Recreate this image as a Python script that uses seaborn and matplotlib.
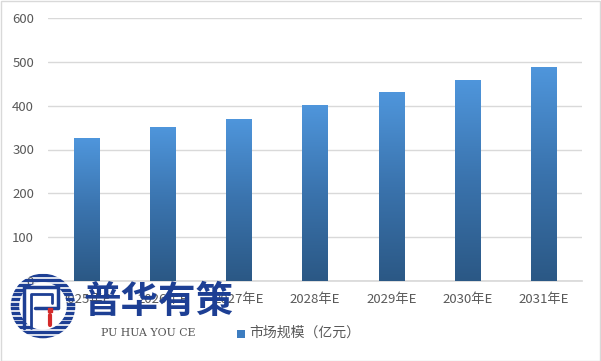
import numpy as np
import pandas as pd
import matplotlib
matplotlib.use('Agg')
import matplotlib.pyplot as plt
import seaborn as sns
from matplotlib.colors import LinearSegmentedColormap
from matplotlib.patches import Rectangle, Circle

# 数据
years = ['2025年E', '2026年E', '2027年E', '2028年E', '2029年E', '2030年E', '2031年E']
market_size = [326, 352, 370, 402, 431, 459, 489]
series_name = '市场规模（亿元）'

sns.set_theme(style='white')
plt.rcParams['font.family'] = ['Noto Sans CJK SC', 'DejaVu Sans']
plt.rcParams['axes.unicode_minus'] = False

df = pd.DataFrame({'year': years, 'value': market_size})

fig = plt.figure(figsize=(6.01, 3.61), dpi=100)
ax = fig.add_axes([48 / 601, 80 / 361, 534 / 601, 263 / 361])

sns.barplot(data=df, x='year', y='value', color='#4a8fd6', width=0.33, ax=ax, zorder=3)

# 渐变填充
cmap = LinearSegmentedColormap.from_list('grad', ['#2b5885', '#3a73ad', '#4f96dc'])
grad = np.linspace(0, 1, 256).reshape(-1, 1)
for p in ax.patches:
    x0, y0 = p.get_x(), p.get_y()
    w, h = p.get_width(), p.get_height()
    p.set_facecolor('none')
    p.set_edgecolor('none')
    im = ax.imshow(grad, cmap=cmap, origin='lower', aspect='auto',
                   extent=[x0, x0 + w, y0, y0 + h], zorder=3)
    im.set_clip_path(p)

ax.set_xlim(-0.5, len(years) - 0.5)
ax.set_ylim(0, 600)
ax.set_yticks(range(0, 601, 100))
ax.yaxis.grid(True, color='#d9d9d9', linewidth=1)
ax.set_axisbelow(True)
for s in ['top', 'right', 'left']:
    ax.spines[s].set_visible(False)
ax.spines['bottom'].set_color('#d9d9d9')
ax.tick_params(axis='both', length=0, labelsize=9.5, colors='#595959')
ax.tick_params(axis='x', pad=9)
ax.tick_params(axis='y', pad=10)
ax.set_xlabel('')
ax.set_ylabel('')

# 图例
fig.patches.append(Rectangle((237 / 601, 1 - 338 / 361), 8 / 601, 8 / 361,
                             transform=fig.transFigure, facecolor='#3d7dc0', edgecolor='none'))
fig.text(249 / 601, 1 - 333 / 361, series_name, fontsize=10, color='#595959',
         va='center', ha='left')

# 水印 logo
fig.text(158 / 601, 1 - 301 / 361, '普华有策', fontsize=27, fontweight='bold',
         color='#1d3f94', ha='center', va='center', zorder=10)
fig.text(148 / 601, 1 - 333 / 361, 'PU HUA YOU CE', fontsize=7.8, family='DejaVu Serif',
         color='#555555', ha='center', va='center', zorder=10)

lax = fig.add_axes([9 / 601, 1 - 340 / 361, 68 / 601, 68 / 361])
lax.set_xlim(-1, 1)
lax.set_ylim(-1, 1)
lax.set_aspect('equal')
lax.axis('off')
ring = Circle((0, 0), 0.95, transform=lax.transData)
for yy in np.linspace(-0.9, 0.9, 14):
    ln, = lax.plot([-1, 1], [yy, yy], color='#1d3f94', linewidth=2.4, solid_capstyle='butt')
    ln.set_clip_path(ring)
lax.add_patch(Circle((0, 0), 0.7, facecolor='white', edgecolor='none', zorder=3))
lax.plot([-0.55, -0.55, 0.45, 0.45, -0.25], [-0.65, 0.55, 0.55, -0.05, -0.05],
         color='#1d3f94', linewidth=2.5, zorder=4)
lax.plot([-0.35, -0.35, 0.25, 0.25], [-0.65, 0.35, 0.35, 0.1],
         color='#1d3f94', linewidth=2.0, zorder=4)
lax.plot([0.22, 0.22], [-0.55, -0.25], color='#d42a2a', linewidth=3, zorder=4)
lax.plot([0.22], [-0.12], marker='s', color='#d42a2a', markersize=3, zorder=4)

# 边框
fig.patches.append(Rectangle((0.5 / 601, 0.5 / 361), 1 - 1.5 / 601, 1 - 1.5 / 361,
                             transform=fig.transFigure, facecolor='none',
                             edgecolor='#d9d9d9', linewidth=1))

fig.savefig('out.png', dpi=100)
